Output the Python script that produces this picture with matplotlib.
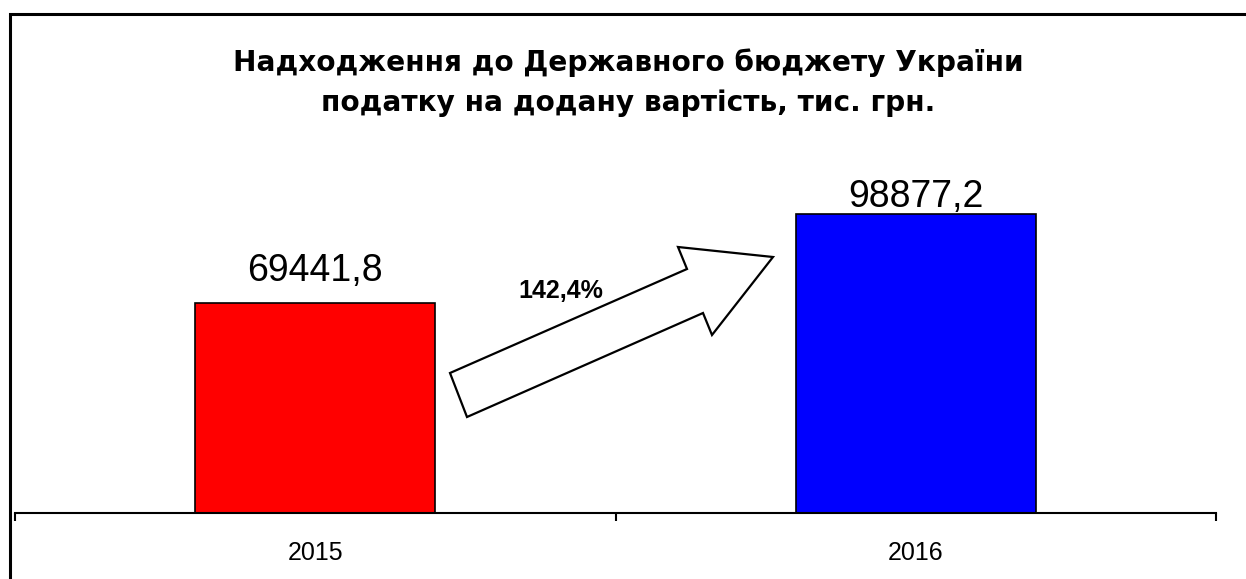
import matplotlib
matplotlib.use('Agg')
import matplotlib.pyplot as plt
from matplotlib.patches import Polygon, Rectangle

plt.rcParams['font.family'] = ['Liberation Sans', 'DejaVu Sans']

# дані
years = ['2015', '2016']
values = [69441.8, 98877.2]
colors = ['#ff0000', '#0000ff']
title_lines = ['Надходження до Державного бюджету України',
               'податку на додану вартість, тис. грн.']

W, H = 1246, 579
fig = plt.figure(figsize=(W / 100, H / 100), dpi=100)

def px(x, y):
    # пікселі від лівого верхнього кута -> частки фігури
    return (x / W, 1 - y / H)

# рамка діаграми (виходить за правий і нижній край)
fig.patches.append(Rectangle(px(10, 700), (1400 - 10) / W, (700 - 13.5) / H,
                             transform=fig.transFigure, fill=False,
                             edgecolor='black', linewidth=2.2, clip_on=False))

ax = fig.add_axes([15 / W, 66 / H, 1201 / W, 450 / H])
x = list(range(len(years)))
ax.bar(x, values, width=0.4, color=colors, edgecolor='black', linewidth=1.2, zorder=2)
ax.set_xlim(-0.5, 1.5)
ax.set_ylim(0, 149000)

for s in ['top', 'left', 'right']:
    ax.spines[s].set_visible(False)
ax.spines['bottom'].set_linewidth(1.5)
ax.set_yticks([])
ax.set_xticks([-0.5, 0.5, 1.5])
ax.set_xticklabels([])
ax.tick_params(axis='x', which='major', direction='out', length=5.5, width=1.5)
ax.set_xticks(x, minor=True)
ax.set_xticklabels(years, minor=True, fontsize=18)
ax.tick_params(axis='x', which='minor', length=0, pad=20)

# підписи значень
offsets = [16, 5.5]
for xi, v, off in zip(x, values, offsets):
    ax.annotate(f'{v:.1f}'.replace('.', ','), (xi, v), xytext=(0, off),
                textcoords='offset points', ha='center', va='baseline', fontsize=27)

# заголовок
title_font = dict(ha='center', va='baseline', fontsize=20.2, fontweight='bold',
                  family=['DejaVu Sans'])
fig.text(628 / W, 1 - 71 / H, title_lines[0], **title_font)
fig.text(628 / W, 1 - 111 / H, title_lines[1], **title_font)

# стрілка зростання
arrow_px = [(450, 373), (467, 417), (703, 313), (712, 335),
            (773, 257), (678, 247), (687, 269)]
fig.patches.append(Polygon([px(a, b) for a, b in arrow_px], closed=True,
                           transform=fig.transFigure, facecolor='white',
                           edgecolor='black', linewidth=1.6))
growth = values[1] / values[0] * 100
fig.text(561 / W, 1 - 298 / H, f'{growth:.1f}%'.replace('.', ','), ha='center',
         va='baseline', fontsize=18, fontweight='bold')

fig.savefig('out.png', dpi=100)
